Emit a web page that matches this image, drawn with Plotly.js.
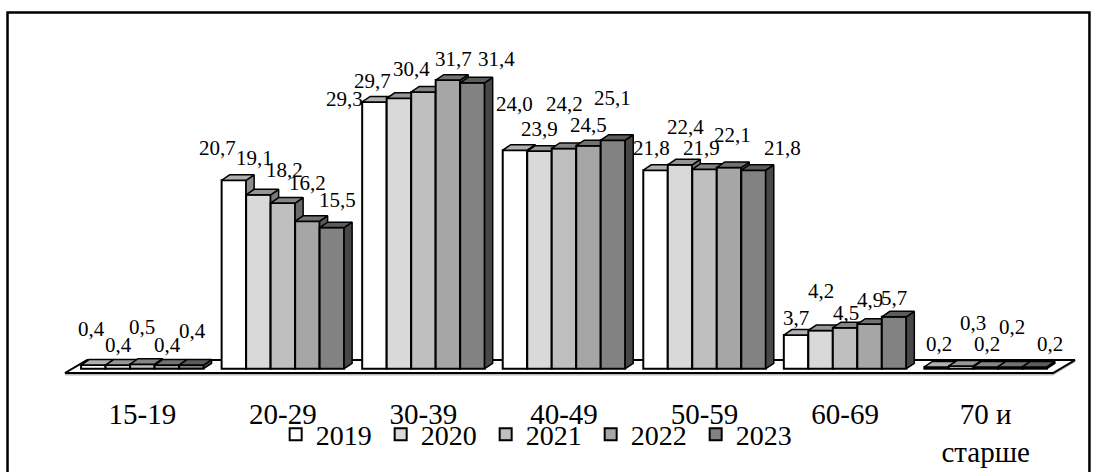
<!DOCTYPE html>
<html>
<head>
<meta charset="utf-8">
<script src="https://cdn.plot.ly/plotly-3.0.1.min.js"></script>
<style>
html,body{margin:0;padding:0;background:#fff;}
#chart{width:1096px;height:472px;}
</style>
</head>
<body>
<div id="chart"></div>
<script>
// ---- data ----
const categories = ["15-19", "20-29", "30-39", "40-49", "50-59", "60-69", "70 и<br>старше"];
const years = ["2019", "2020", "2021", "2022", "2023"];
const v2019 = [0.4, 20.7, 29.3, 24.0, 21.8, 3.7, 0.2];
const v2020 = [0.4, 19.1, 29.7, 23.9, 22.4, 4.2, 0.3];
const v2021 = [0.5, 18.2, 30.4, 24.2, 21.9, 4.5, 0.2];
const v2022 = [0.4, 16.2, 31.7, 24.5, 22.1, 4.9, 0.2];
const v2023 = [0.4, 15.5, 31.4, 25.1, 21.8, 5.7, 0.2];
const series = [v2019, v2020, v2021, v2022, v2023];

// ---- styles ----
const frontColors = ["#ffffff", "#d9d9d9", "#bfbfbf", "#a6a6a6", "#828282"];
const topColors   = ["#b0b0b0", "#969696", "#858585", "#727272", "#5c5c5c"];
const sideColors  = ["#8c8c8c", "#7a7a7a", "#6a6a6a", "#5a5a5a", "#474747"];
// label pixel offsets [dx, up] per series per category
const labelOffsets = [
  [[-2,36],[-16,32],[-30,3],[0,46],[-4,22],[0,17],[2,23]],
  [[1,20],[-4,37],[-26,17],[0,22],[5,38],[0,39],[12,43]],
  [[0,37],[2,33],[-12,23],[1,44],[-3,21],[1,15],[1,23]],
  [[1,20],[0,38],[6,21],[0,21],[3,33],[0,24],[2,40]],
  [[1,34],[6,28],[24,24],[0,42],[29,22],[0,19],[15,23]]
];
const FONT = "Liberation Serif";
const XR = [-0.6, 6.7];
const YR = [-0.8, 38.85];
const W = 0.1743;      // bar width (x units)
const DX = 0.057;      // depth offset x
const DY = 0.6;        // depth offset y

const catIdx = categories.map((c, i) => i);
const fmt = v => v.toFixed(1).replace(".", ",");

const traces = [];
// floor (base layer)
traces.push({
  type: "scatter", mode: "lines", fill: "toself",
  x: [-0.551, 6.48, 6.636, 6.636, 6.48, -0.551, null],
  y: [-0.47, -0.47, 0.95, 0.72, -0.75, -0.75, null],
  fillcolor: "#b8b8b8", line: {color: "#b8b8b8", width: 0},
  xaxis: "x", yaxis: "y", hoverinfo: "skip", showlegend: false
});
traces.push({
  type: "scatter", mode: "lines", fill: "toself",
  x: [-0.551, 6.48, 6.636, -0.393, -0.551],
  y: [-0.47, -0.47, 0.95, 0.95, -0.47],
  fillcolor: "#ffffff", line: {color: "#000", width: 2},
  xaxis: "x", yaxis: "y", hoverinfo: "skip", showlegend: false
});

const annotations = [];
series.forEach((vals, j) => {
  const ax = "x" + (j + 2), ay = "y" + (j + 2);
  const off = (j - 2.5) * W;
  // front faces as bars
  traces.push({
    type: "bar", name: years[j], x: catIdx, y: vals,
    width: W, offset: off,
    marker: {color: frontColors[j], line: {color: "#000", width: 2}},
    xaxis: ax, yaxis: ay, hoverinfo: "skip"
  });
  // top and side faces
  const tx = [], ty = [], sx = [], sy = [];
  vals.forEach((v, i) => {
    const x0 = i + off, x1 = x0 + W;
    tx.push(x0, x1, x1 + DX, x0 + DX, x0, null);
    ty.push(v, v, v + DY, v + DY, v, null);
    sx.push(x1, x1 + DX, x1 + DX, x1, x1, null);
    sy.push(0, DY, v + DY, v, 0, null);
    const o = labelOffsets[j][i];
    annotations.push({
      xref: ax, yref: ay, x: i + off + W / 2, y: v,
      text: fmt(v), showarrow: false, xanchor: "center", yanchor: "middle",
      xshift: o[0], yshift: o[1],
      font: {family: FONT, size: 21, color: "#000"}
    });
  });
  traces.push({
    type: "scatter", mode: "lines", fill: "toself", x: sx, y: sy,
    fillcolor: sideColors[j], line: {color: "#000", width: 1.5},
    xaxis: ax, yaxis: ay, hoverinfo: "skip", showlegend: false
  });
  traces.push({
    type: "scatter", mode: "lines", fill: "toself", x: tx, y: ty,
    fillcolor: topColors[j], line: {color: "#000", width: 1.5},
    xaxis: ax, yaxis: ay, hoverinfo: "skip", showlegend: false
  });
});

const layout = {
  width: 1096, height: 472,
  margin: {l: 58, r: 12, t: 15, b: 93},
  paper_bgcolor: "#fff", plot_bgcolor: "rgba(0,0,0,0)",
  font: {family: FONT, color: "#000"},
  showlegend: true,
  legend: {
    orientation: "h", x: 0.468, xanchor: "center", y: -0.162, yanchor: "middle",
    font: {family: FONT, size: 28, color: "#000"},
    bgcolor: "rgba(0,0,0,0)", traceorder: "normal",
    entrywidth: 60, entrywidthmode: "pixels"
  },
  xaxis: {
    range: XR, tickvals: catIdx, ticktext: categories,
    showgrid: false, zeroline: false, showline: false, ticks: "",
    tickfont: {family: FONT, size: 29, color: "#000"},
    ticklabelstandoff: 18, fixedrange: true
  },
  yaxis: {range: YR, visible: false, fixedrange: true},
  annotations: annotations,
  shapes: [{
    type: "rect", xref: "paper", yref: "paper",
    x0: -0.0492, x1: 1.0053, y0: -0.3, y1: 1.0069,
    line: {color: "#000", width: 2.5}, fillcolor: "rgba(0,0,0,0)"
  }]
};
for (let j = 2; j <= 6; j++) {
  layout["xaxis" + j] = {range: XR, overlaying: "x", visible: false, fixedrange: true};
  layout["yaxis" + j] = {range: YR, overlaying: "y", visible: false, fixedrange: true};
}

Plotly.newPlot("chart", traces, layout, {displayModeBar: false, staticPlot: true});
</script>
</body>
</html>
